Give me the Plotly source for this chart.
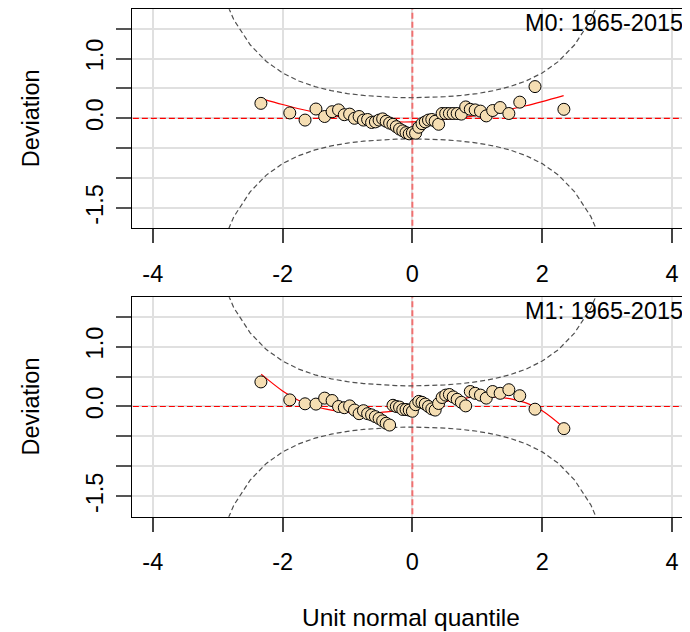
import plotly.graph_objects as go

# ---------------- data ----------------
# unit normal quantiles of the 51 ordered residuals (shared by both panels)
quantiles = [-2.334, -1.889, -1.654, -1.486, -1.352, -1.237, -1.138, -1.049, -0.967, -0.892,
             -0.821, -0.754, -0.690, -0.629, -0.570, -0.513, -0.458, -0.404, -0.351, -0.299,
             -0.248, -0.198, -0.148, -0.098, -0.049, 0.000, 0.049, 0.098, 0.148, 0.198,
             0.248, 0.299, 0.351, 0.404, 0.458, 0.513, 0.570, 0.629, 0.690, 0.754,
             0.821, 0.892, 0.967, 1.049, 1.138, 1.237, 1.352, 1.486, 1.654, 1.889, 2.334]

dev_m0 = [0.25, 0.09, -0.03, 0.155, 0.03, 0.11, 0.14, 0.06, 0.07, 0.00,
          0.03, -0.03, -0.02, -0.07, -0.06, -0.03, -0.01, -0.05, -0.08, -0.10,
          -0.14, -0.18, -0.21, -0.24, -0.26, -0.24, -0.25, -0.15, -0.09, -0.06,
          -0.03, -0.02, -0.05, -0.10, 0.08, 0.08, 0.08, 0.08, 0.08, 0.07,
          0.19, 0.15, 0.14, 0.12, 0.04, 0.13, 0.18, 0.08, 0.27, 0.53, 0.15]

dev_m1 = [0.41, 0.11, 0.045, 0.04, 0.14, 0.10, 0.00, -0.02, 0.01, -0.06,
          -0.12, -0.07, -0.12, -0.14, -0.17, -0.20, -0.24, -0.28, -0.31, 0.02,
          0.00, -0.01, -0.05, -0.05, -0.06, -0.08, 0.03, 0.085, 0.07, 0.04,
          0.00, -0.04, -0.06, 0.05, 0.15, 0.19, 0.20, 0.16, 0.12, 0.07,
          0.01, 0.25, 0.22, 0.19, 0.14, 0.25, 0.22, 0.28, 0.18, -0.045, -0.37]

# fitted worm (smooth red curve)
fit_x = [-2.33, -2.0, -1.75, -1.5, -1.25, -1.0, -0.75, -0.5, -0.25, 0.0,
         0.25, 0.5, 0.75, 1.0, 1.25, 1.5, 1.75, 2.0, 2.33]
fit_m0 = [0.33, 0.23, 0.16, 0.10, 0.05, 0.01, -0.02, -0.045, -0.06, -0.06,
          -0.045, -0.02, 0.01, 0.05, 0.10, 0.15, 0.21, 0.28, 0.38]
fit_m1 = [0.54, 0.26, 0.10, 0.00, -0.06, -0.10, -0.11, -0.10, -0.07, -0.03,
          0.02, 0.08, 0.13, 0.16, 0.16, 0.13, 0.06, -0.07, -0.35]

# 95% confidence bands
band_z = [-3.25, -3.0, -2.75, -2.5, -2.25, -2.0, -1.75, -1.5, -1.25, -1.0, -0.75, -0.5, -0.25,
          0.0, 0.25, 0.5, 0.75, 1.0, 1.25, 1.5, 1.75, 2.0, 2.25, 2.5, 2.75, 3.0, 3.25]
band_upper = [3.248, 2.274, 1.645, 1.230, 0.950, 0.758, 0.624, 0.529, 0.462, 0.414, 0.382, 0.360, 0.348,
              0.344, 0.348, 0.360, 0.382, 0.414, 0.462, 0.529, 0.624, 0.758, 0.950, 1.230, 1.645, 2.274, 3.248]
band_lower = [-3.248, -2.274, -1.645, -1.230, -0.950, -0.758, -0.624, -0.529, -0.462, -0.414, -0.382, -0.360, -0.348,
              -0.344, -0.348, -0.360, -0.382, -0.414, -0.462, -0.529, -0.624, -0.758, -0.950, -1.230, -1.645, -2.274, -3.248]

panel_labels = ["M0: 1965-2015", "M1: 1965-2015"]
x_ticks = [-4, -2, 0, 2, 4]
x_ticktext = ["-4", "-2", "0", "2", "4"]
y_ticks = [-1.5, -1.0, -0.5, 0.0, 0.5, 1.0, 1.5]
y_ticktext = ["-1.5", "", "", "0.0", "", "1.0", ""]

# ---------------- figure ----------------
FONT = "Liberation Sans, Arial, sans-serif"
FS = 23.5
OFF = 8                      # page body margin of the html page
W, H = 690 - OFF, 632 - OFF
LEFT = 132 - OFF             # left edge of plot box (figure px)
PW = W - LEFT
fig = go.Figure()

panels = [
    dict(dev=dev_m0, fit=fit_m0, xa="x", ya="y", top=9.3, bottom=228.3),
    dict(dev=dev_m1, fit=fit_m1, xa="x2", ya="y2", top=297.3, bottom=516.7),
]

for k, p in enumerate(panels):
    xa, ya = p["xa"], p["ya"]
    fig.add_trace(go.Scatter(x=[-5, 5], y=[0, 0], mode="lines", xaxis=xa, yaxis=ya,
                             line=dict(color="red", width=1.2, dash="6px,3px"),
                             hoverinfo="skip", showlegend=False))
    fig.add_trace(go.Scatter(x=[0, 0], y=[-3, 3], mode="lines", xaxis=xa, yaxis=ya,
                             line=dict(color="rgba(255,0,0,0.5)", width=2, dash="6px,3px"),
                             hoverinfo="skip", showlegend=False))
    for band in (band_upper, band_lower):
        fig.add_trace(go.Scatter(x=band_z, y=band, mode="lines", xaxis=xa, yaxis=ya,
                                 line=dict(color="#505050", width=1.2, dash="5px,3px"),
                                 hoverinfo="skip", showlegend=False))
    fig.add_trace(go.Scatter(x=fit_x, y=p["fit"], mode="lines", xaxis=xa, yaxis=ya,
                             line=dict(color="red", width=1.2, shape="spline"),
                             hoverinfo="skip", showlegend=False))
    fig.add_trace(go.Scatter(x=quantiles, y=p["dev"], mode="markers", xaxis=xa, yaxis=ya,
                             marker=dict(size=12, color="#F5DEB3",
                                         line=dict(color="black", width=1)),
                             showlegend=False))

    top_px = p["top"] - OFF
    bot_px = p["bottom"] - OFF
    dom = [1 - bot_px / H, 1 - top_px / H]
    xkey = "xaxis" if k == 0 else "xaxis2"
    ykey = "yaxis" if k == 0 else "yaxis2"
    fig.layout[xkey] = dict(
        domain=[0, 1], range=[-4.32, 4.277], anchor=ya,
        tickmode="array", tickvals=x_ticks, ticktext=x_ticktext,
        ticks="outside", ticklen=14, tickwidth=1.5, tickcolor="#444",
        ticklabelstandoff=10,
        showgrid=True, gridcolor="#e0e0e0", gridwidth=2,
        showline=True, linecolor="black", linewidth=1, mirror=True,
        zeroline=False, tickfont=dict(family=FONT, size=FS, color="black"),
    )
    fig.layout[ykey] = dict(
        domain=dom, range=[-1.84, 1.823], anchor=xa,
        tickmode="array", tickvals=y_ticks, ticktext=y_ticktext,
        ticks="outside", ticklen=15, tickwidth=1.5, tickcolor="#555",
        tickangle=-90, ticklabelstandoff=4,
        showgrid=True, gridcolor="#e0e0e0", gridwidth=2,
        showline=True, linecolor="black", linewidth=1, mirror=False,
        zeroline=False, tickfont=dict(family=FONT, size=FS, color="black"),
    )
    fig.add_annotation(text="Deviation", xref="paper", yref="paper",
                       x=(30.5 - 132) / PW, y=(dom[0] + dom[1]) / 2,
                       xanchor="center", yanchor="middle", textangle=-90,
                       showarrow=False, font=dict(family=FONT, size=FS, color="black"))
    fig.add_annotation(text=panel_labels[k], xref="paper", yref="paper",
                       x=1, y=dom[1], xanchor="right", yanchor="top",
                       xshift=-5, yshift=1,
                       showarrow=False, font=dict(family=FONT, size=FS, color="black"))

fig.add_annotation(text="Unit normal quantile", xref="paper", yref="paper",
                   x=(411 - 132) / PW, y=0, xanchor="center", yanchor="bottom",
                   yshift=-1,
                   showarrow=False, font=dict(family=FONT, size=24.5, color="black"))

fig.update_layout(
    width=W, height=H,
    margin=dict(l=LEFT, r=0, t=0, b=0),
    paper_bgcolor="white", plot_bgcolor="white",
    showlegend=False,
)

fig.write_html("out.html")
